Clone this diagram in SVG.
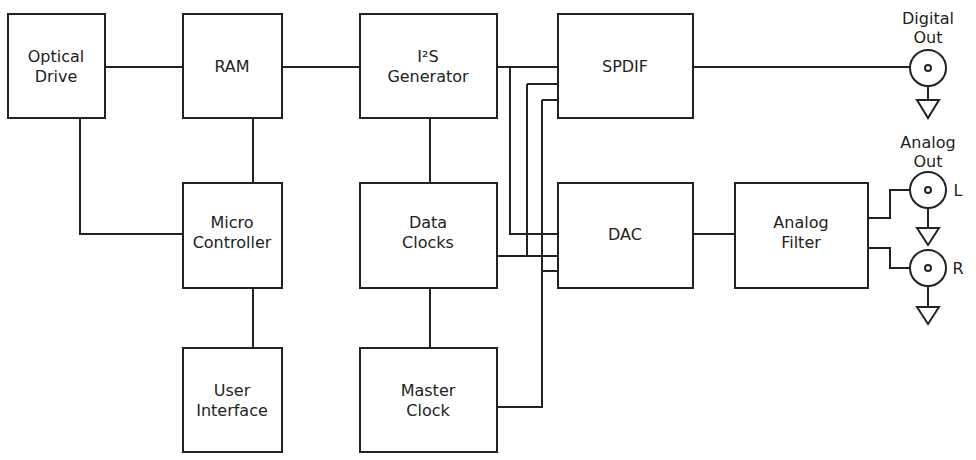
<svg xmlns="http://www.w3.org/2000/svg" width="976" height="460" viewBox="0 0 976 460">
<style>
.b{fill:#fff;stroke:#222;stroke-width:2}
.c{fill:none;stroke:#222;stroke-width:2}
text{font-family:"DejaVu Sans","Liberation Sans",sans-serif;font-size:16px;fill:#222;text-anchor:middle}
</style>
<rect width="976" height="460" fill="#fff"/>
<g id="connectors" class="c">
<path d="M105 67H183M282 67H360M80 118V234H183M253 118V183M253 288V348M430 118V183M430 288V348"/>
<path d="M497 67H558M510 67V234H558M527 84H558M527 84V256M497 256H558M542 100H558M542 100V407H497M542 271H558"/>
<path d="M693 67H910M693 234H735M868 218H890V190H910M868 248H890V268H910"/>
<path d="M928 86V100M928 208V228M928 286V307"/>
</g>
<g id="optical"><rect class="b" x="8" y="14" width="97" height="104"/><text x="56" y="62">Optical</text><text x="56" y="82">Drive</text></g>
<g id="ram"><rect class="b" x="183" y="14" width="99" height="104"/><text x="232" y="72">RAM</text></g>
<g id="i2s"><rect class="b" x="360" y="14" width="137" height="104"/><text x="428" y="62">I²S</text><text x="428" y="82">Generator</text></g>
<g id="spdif"><rect class="b" x="558" y="14" width="135" height="104"/><text x="625" y="72">SPDIF</text></g>
<g id="micro"><rect class="b" x="183" y="183" width="99" height="105"/><text x="232" y="228">Micro</text><text x="232" y="248">Controller</text></g>
<g id="dataclocks"><rect class="b" x="360" y="183" width="137" height="105"/><text x="428" y="228">Data</text><text x="428" y="248">Clocks</text></g>
<g id="dac"><rect class="b" x="558" y="183" width="135" height="105"/><text x="625" y="240">DAC</text></g>
<g id="filter"><rect class="b" x="735" y="183" width="133" height="105"/><text x="801" y="228">Analog</text><text x="801" y="248">Filter</text></g>
<g id="ui"><rect class="b" x="183" y="348" width="99" height="104"/><text x="232" y="396">User</text><text x="232" y="416">Interface</text></g>
<g id="master"><rect class="b" x="360" y="348" width="137" height="104"/><text x="428" y="396">Master</text><text x="428" y="416">Clock</text></g>
<g id="digitalout">
<text x="928" y="24">Digital</text><text x="928" y="43">Out</text>
<circle class="c" cx="928" cy="68" r="18"/><circle class="c" cx="928" cy="68" r="3" stroke-width="1.5"/>
<path class="c" d="M917 100H939L928 118Z"/></g>
<g id="analogL">
<text x="928" y="148">Analog</text><text x="928" y="167">Out</text>
<circle class="c" cx="928" cy="190" r="18"/><circle class="c" cx="928" cy="190" r="3" stroke-width="1.5"/>
<text x="958" y="196">L</text>
<path class="c" d="M917 228H939L928 245Z"/></g>
<g id="analogR">
<circle class="c" cx="928" cy="268" r="18"/><circle class="c" cx="928" cy="268" r="3" stroke-width="1.5"/>
<text x="958" y="274">R</text>
<path class="c" d="M917 307H939L928 324Z"/></g>
</svg>
